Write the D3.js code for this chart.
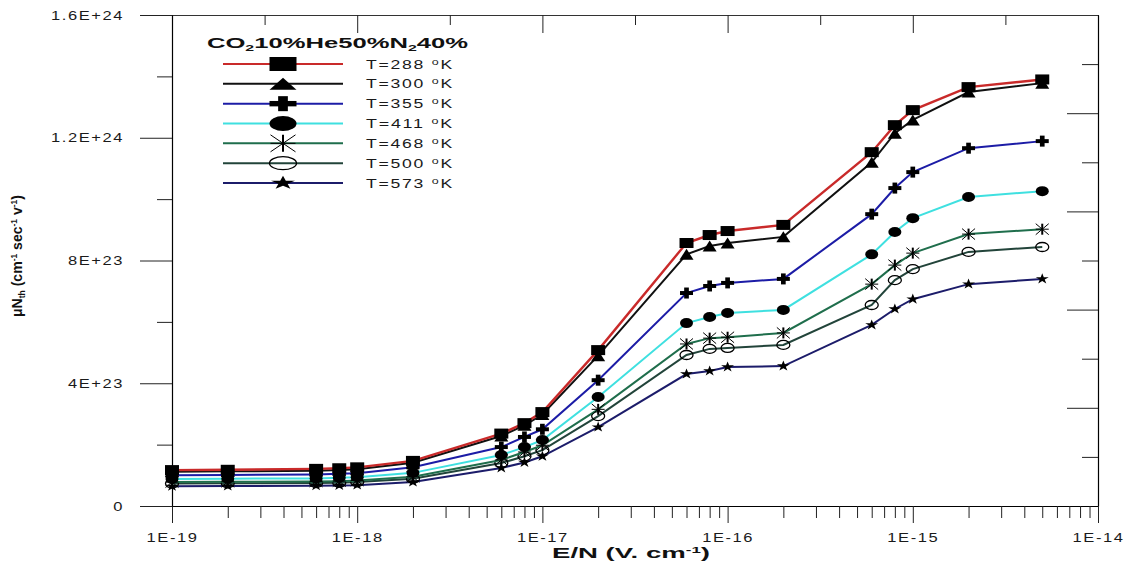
<!DOCTYPE html>
<html><head><meta charset="utf-8">
<script src="https://cdn.jsdelivr.net/npm/d3@7"></script>
<style>body{margin:0;background:#fff}svg{display:block}</style>
</head><body><svg id="chart" width="1128" height="563"></svg>
<script>
// ---------- data ----------
const temps = ["288", "300", "355", "411", "468", "500", "573"];
const xValues = [1e-19, 2e-19, 6e-19, 8e-19, 1e-18, 2e-18, 6e-18, 8e-18, 1e-17, 2e-17,
                 6e-17, 8e-17, 1e-16, 2e-16, 6e-16, 8e-16, 1e-15, 2e-15, 5e-15];
// values in units of 1E+23
const t288 = [1.17, 1.18, 1.21, 1.23, 1.26, 1.47, 2.36, 2.70, 3.06, 5.08, 8.57, 8.83, 8.96, 9.16, 11.53, 12.41, 12.90, 13.65, 13.90];
const t300 = [1.12, 1.13, 1.15, 1.17, 1.20, 1.41, 2.28, 2.63, 2.98, 4.90, 8.20, 8.47, 8.57, 8.77, 11.20, 12.15, 12.58, 13.49, 13.78];
const t355 = [1.00, 1.01, 1.03, 1.05, 1.07, 1.26, 1.92, 2.25, 2.50, 4.10, 6.94, 7.17, 7.27, 7.40, 9.51, 10.36, 10.88, 11.66, 11.89];
const t411 = [0.88, 0.89, 0.90, 0.92, 0.94, 1.08, 1.66, 1.92, 2.15, 3.55, 5.96, 6.16, 6.29, 6.39, 8.20, 8.93, 9.38, 10.07, 10.26];
const t468 = [0.78, 0.79, 0.80, 0.81, 0.83, 0.95, 1.50, 1.76, 1.98, 3.15, 5.28, 5.47, 5.50, 5.64, 7.23, 7.85, 8.24, 8.86, 9.02];
const t500 = [0.73, 0.74, 0.75, 0.76, 0.78, 0.89, 1.40, 1.62, 1.82, 2.93, 4.92, 5.12, 5.15, 5.25, 6.55, 7.36, 7.72, 8.28, 8.44];
const t573 = [0.64, 0.65, 0.66, 0.67, 0.68, 0.78, 1.24, 1.42, 1.62, 2.57, 4.30, 4.40, 4.53, 4.56, 5.90, 6.42, 6.74, 7.23, 7.40];
const UNIT = 1e23;

const yTickValues = [0, 4e23, 8e23, 1.2e24, 1.6e24];
const yTickLabels = ["0", "4E+23", "8E+23", "1.2E+24", "1.6E+24"];
const xTickValues = [1e-19, 1e-18, 1e-17, 1e-16, 1e-15, 1e-14];
const xTickLabels = ["1E-19", "1E-18", "1E-17", "1E-16", "1E-15", "1E-14"];

const colors = ["#c92a2a", "#111111", "#1c1ca6", "#3fe0e0", "#1f6e4c", "#22443a", "#1c1c6a"];
const markerTypes = ["square", "triangle", "plus", "circle", "asterisk", "ocircle", "star"];

const seriesValues = [t288, t300, t355, t411, t468, t500, t573];
const series = temps.map((t, i) => ({
  label: t, color: colors[i], marker: markerTypes[i],
  points: xValues.map((xv, j) => ({x: xv, v: seriesValues[i][j] * UNIT}))
}));

// ---------- layout ----------
const FONT = "'Liberation Sans', Arial, Helvetica, sans-serif";
const svg = d3.select("#chart");
svg.append("rect").attr("width", 1128).attr("height", 563).attr("fill", "#fff");

const x = d3.scaleLog().domain([1e-19, 1e-14]).range([172, 1098]);
const y = d3.scaleLinear().domain([0, 1.6e24]).range([506, 15]);

function stretch(sel, k) {
  sel.each(function () {
    const w = this.getComputedTextLength();
    d3.select(this).attr("textLength", w * k).attr("lengthAdjust", "spacingAndGlyphs");
  });
}
function styleAxis(g) {
  g.selectAll("path.domain").attr("stroke", "#000").attr("stroke-width", 1.2);
  g.selectAll(".tick line").attr("stroke", "#222").attr("stroke-width", 1);
}

// minor tick values
const xMinor = [];
for (let e = -19; e < -14; e++) for (let m = 2; m <= 9; m++) xMinor.push(m * Math.pow(10, e));
const xHalf = [];
for (let e = -19; e < -14; e++) xHalf.push(Math.pow(10, e + 0.5));
const yMinor = [2e23, 6e23, 1e24, 1.4e24];
const rMajor = [3.2e23, 6.4e23, 9.6e23, 1.28e24];
const rMinor = [1.6e23, 4.8e23, 8e23, 1.12e24, 1.44e24];

// top axis
const gTop = svg.append("g").attr("transform", `translate(0,${y.range()[1]})`)
  .call(d3.axisTop(x).tickValues(xTickValues).tickSize(-18).tickSizeOuter(0).tickFormat(""));
styleAxis(gTop); gTop.select(".domain").attr("stroke", "#333");
const gTopMin = svg.append("g").attr("transform", `translate(0,${y.range()[1]})`)
  .call(d3.axisTop(x).tickValues(xHalf).tickSize(-10).tickSizeOuter(0).tickFormat(""));
styleAxis(gTopMin); gTopMin.select(".domain").remove();

// right axis
const gRight = svg.append("g").attr("transform", `translate(${x.range()[1]},0)`)
  .call(d3.axisRight(y).tickValues(rMajor).tickSize(-31).tickSizeOuter(0).tickFormat(""));
styleAxis(gRight);
const gRightMin = svg.append("g").attr("transform", `translate(${x.range()[1]},0)`)
  .call(d3.axisRight(y).tickValues(rMinor).tickSize(-16).tickSizeOuter(0).tickFormat(""));
styleAxis(gRightMin); gRightMin.select(".domain").remove();

// bottom axis
const gBottom = svg.append("g").attr("transform", `translate(0,${y.range()[0]})`)
  .call(d3.axisBottom(x).tickValues(xTickValues).tickSize(17).tickSizeOuter(0)
        .tickPadding(10).tickFormat((d, i) => xTickLabels[i]));
styleAxis(gBottom);
const gBottomMin = svg.append("g").attr("transform", `translate(0,${y.range()[0]})`)
  .call(d3.axisBottom(x).tickValues(xMinor).tickSize(12).tickSizeOuter(0).tickFormat(""));
styleAxis(gBottomMin); gBottomMin.select(".domain").remove();

// left axis
const gLeft = svg.append("g").attr("transform", `translate(${x.range()[0]},0)`)
  .call(d3.axisLeft(y).tickValues(yTickValues).tickSize(32).tickSizeOuter(0)
        .tickPadding(16).tickFormat((d, i) => yTickLabels[i]));
styleAxis(gLeft);
const gLeftMin = svg.append("g").attr("transform", `translate(${x.range()[0]},0)`)
  .call(d3.axisLeft(y).tickValues(yMinor).tickSize(15).tickSizeOuter(0).tickFormat(""));
styleAxis(gLeftMin); gLeftMin.select(".domain").remove();

[gBottom, gLeft].forEach(g => {
  const t = g.selectAll(".tick text")
    .attr("font-family", FONT).attr("font-size", 12.5).attr("fill", "#1a1a1a")
    .style("letter-spacing", "1.2px");
  stretch(t, 1.32);
});

// ---------- markers ----------
function marker(g, type, cx, cy, w, h) {
  const m = g.append("g").attr("transform", `translate(${cx},${cy})`);
  if (type === "square") {
    m.append("rect").attr("x", -w / 2).attr("y", -h / 2).attr("width", w).attr("height", h).attr("fill", "#000");
  } else if (type === "triangle") {
    m.append("path").attr("d", `M0,${-h / 2}L${w / 2},${h / 2}L${-w / 2},${h / 2}Z`).attr("fill", "#000");
  } else if (type === "plus") {
    const th = h * 0.36, tv = w * 0.36;
    m.append("rect").attr("x", -w / 2).attr("y", -th / 2).attr("width", w).attr("height", th).attr("fill", "#000");
    m.append("rect").attr("x", -tv / 2).attr("y", -h / 2).attr("width", tv).attr("height", h).attr("fill", "#000");
  } else if (type === "circle") {
    m.append("ellipse").attr("rx", w / 2).attr("ry", h / 2).attr("fill", "#000");
  } else if (type === "asterisk") {
    m.append("line").attr("x1", 0).attr("y1", -h / 2).attr("x2", 0).attr("y2", h / 2).attr("stroke", "#000").attr("stroke-width", 2);
    m.append("line").attr("x1", -w / 2).attr("y1", -h / 2).attr("x2", w / 2).attr("y2", h / 2).attr("stroke", "#000").attr("stroke-width", 1);
    m.append("line").attr("x1", -w / 2).attr("y1", h / 2).attr("x2", w / 2).attr("y2", -h / 2).attr("stroke", "#000").attr("stroke-width", 1);
    m.append("line").attr("x1", -w / 2).attr("y1", 0).attr("x2", w / 2).attr("y2", 0).attr("stroke", "#000").attr("stroke-width", 1);
  } else if (type === "ocircle") {
    m.append("ellipse").attr("rx", w / 2).attr("ry", h / 2).attr("fill", "none").attr("stroke", "#000").attr("stroke-width", 1.3);
  } else if (type === "star") {
    m.append("path").attr("d", d3.symbol().type(d3.symbolStar).size(100)())
      .attr("transform", `scale(${w / 18},${h / 17})`).attr("fill", "#000");
  }
}
const plotSizes = {square: [14, 10], triangle: [14, 11], plus: [13, 11], circle: [13, 10],
                   asterisk: [13, 11], ocircle: [13, 9], star: [13, 10]};
const legSizes = {square: [27, 14], triangle: [27, 12], plus: [27, 15], circle: [27, 15],
                  asterisk: [25, 17], ocircle: [27, 13], star: [24, 13]};

// ---------- lines ----------
const line = d3.line().x(d => x(d.x)).y(d => y(d.v));
const plot = svg.append("g");
series.slice().reverse().forEach(s => {
  const g = plot.append("g");
  g.append("path").datum(s.points).attr("d", line).attr("fill", "none")
    .attr("stroke", s.color).attr("stroke-width", s.label === "288" ? 2.4 : 2);
  s.points.forEach(p => marker(g, s.marker, x(p.x), y(p.v), plotSizes[s.marker][0], plotSizes[s.marker][1]));
});

// ---------- legend ----------
const leg = svg.append("g");
const title = leg.append("text").attr("x", 207).attr("y", 48)
  .attr("font-family", FONT).attr("font-size", 14.5).attr("font-weight", "bold").attr("fill", "#111");
title.append("tspan").text("CO");
title.append("tspan").attr("font-size", 9).attr("dy", 3).text("2");
title.append("tspan").attr("dy", -3).text("10%He50%N");
title.append("tspan").attr("font-size", 9).attr("dy", 3).text("2");
title.append("tspan").attr("dy", -3).text("40%");
title.attr("textLength", 261).attr("lengthAdjust", "spacingAndGlyphs");

const rowY = d3.scalePoint().domain(temps).range([64, 183]);
series.forEach(s => {
  const cy = rowY(s.label);
  leg.append("line").attr("x1", 223).attr("x2", 343).attr("y1", cy).attr("y2", cy)
    .attr("stroke", s.color).attr("stroke-width", 2);
  marker(leg, s.marker, 283, cy, legSizes[s.marker][0], legSizes[s.marker][1]);
  const t = leg.append("text").attr("x", 366).attr("y", cy + 4.5)
    .attr("font-family", FONT).attr("font-size", 12).attr("fill", "#1a1a1a").style("letter-spacing", "1.2px");
  t.append("tspan").text("T=" + s.label + " ");
  t.append("tspan").attr("font-size", 8.5).attr("dy", -4).text("o");
  t.append("tspan").attr("dy", 4).text("K");
  t.attr("textLength", 88).attr("lengthAdjust", "spacingAndGlyphs");
});

// ---------- axis titles ----------
const xt = svg.append("text").attr("x", 631).attr("y", 558).attr("text-anchor", "middle")
  .attr("font-family", FONT).attr("font-size", 15.5).attr("font-weight", "bold").attr("fill", "#111");
xt.append("tspan").text("E/N (V. cm");
xt.append("tspan").attr("font-size", 9.5).attr("dy", -5).text("-1");
xt.append("tspan").attr("dy", 5).text(")");
xt.attr("textLength", 158).attr("lengthAdjust", "spacingAndGlyphs");

const yt = svg.append("text").attr("transform", "translate(22,256) rotate(-90)").attr("text-anchor", "middle")
  .attr("font-family", FONT).attr("font-size", 15).attr("font-weight", "bold").attr("fill", "#111");
yt.append("tspan").text("μN");
yt.append("tspan").attr("font-size", 9).attr("dy", 3).text("th");
yt.append("tspan").attr("dy", -3).text(" (cm");
yt.append("tspan").attr("font-size", 9).attr("dy", -5).text("-1");
yt.append("tspan").attr("dy", 5).text(" sec");
yt.append("tspan").attr("font-size", 9).attr("dy", -5).text("-1");
yt.append("tspan").attr("dy", 5).text(" v");
yt.append("tspan").attr("font-size", 9).attr("dy", -5).text("-1");
yt.append("tspan").attr("dy", 5).text(")");
yt.attr("textLength", 122).attr("lengthAdjust", "spacingAndGlyphs");
</script>
</body></html>
